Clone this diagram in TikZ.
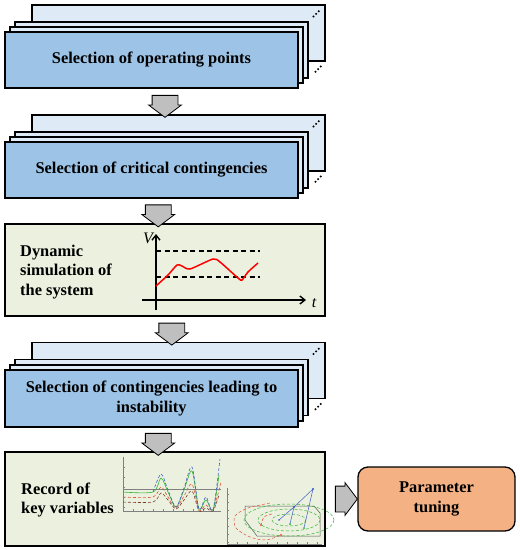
\documentclass[tikz,border=0pt]{standalone}
\usepackage{fontspec}
\setmainfont{Liberation Serif}
\usepackage{tikz}
\usetikzlibrary{arrows.meta, positioning, shapes.arrows, calc}
\definecolor{stepblue}{HTML}{9DC3E6}
\definecolor{stepback}{HTML}{DEEBF7}
\definecolor{simgreen}{HTML}{EBF1DE}
\definecolor{tuneorange}{HTML}{F4B183}
\definecolor{flowgray}{HTML}{BFBFBF}
\definecolor{plotgreen}{HTML}{33B533}
\definecolor{plotred}{HTML}{E0553C}
\definecolor{plotdark}{HTML}{7A3B2E}
\definecolor{plotblue}{HTML}{3F5FC8}

\tikzset{
  stackback/.style={draw, line width=1.3pt, fill=stepback, minimum width=293pt, minimum height=56pt, inner sep=0pt},
  stackfront/.style={draw, line width=1.3pt, fill=stepblue, minimum width=293pt, minimum height=56pt, inner sep=0pt, align=center, font=\fontsize{16.4}{20}\selectfont\bfseries},
  greenbox/.style={draw, line width=1.3pt, fill=simgreen, minimum width=320pt, inner sep=0pt},
  bodytext/.style={align=left, anchor=west, inner sep=0pt, font=\fontsize{16.4}{19.5}\selectfont\bfseries},
  flowarrow/.style={single arrow, draw, line width=0.8pt, fill=flowgray, minimum height=22pt, inner xsep=0pt, inner ysep=12.5pt, single arrow head extend=3.5pt, single arrow tip angle=106},
  limitline/.style={line width=1.2pt, dash pattern=on 5pt off 3.5pt},
  plotline/.style={line width=0.6pt, smooth, tension=0.5},
}

\begin{document}
\begin{tikzpicture}[x=1pt, y=-1pt]
    \useasboundingbox (0,0) rectangle (520,550);

    % Stack: operating points
    \node[stackback] (op3) at (178.5,33) {};
    \node[stackback] (op2) at (161.5,50) {};
    \node[stackback] (op1) at (156.5,55) {};
    \node[stackfront] (op) at (151.5,60) {Selection of operating points};

    % Stack: critical contingencies
    \node[stackback] (cc3) at (178.5,143) {};
    \node[stackback] (cc2) at (161.5,160) {};
    \node[stackback] (cc1) at (156.5,165) {};
    \node[stackfront] (cc) at (151.5,170) {Selection of critical contingencies};

    % Dynamic simulation
    \node[greenbox, minimum height=92pt] (sim) at (165,270) {};
    \node[bodytext] (simtext) at (20,272) {Dynamic\\simulation of\\the system};

    % Stack: contingencies leading to instability
    \node[stackback] (ci3) at (178.5,370.5) {};
    \node[stackback] (ci2) at (161.5,387.5) {};
    \node[stackback] (ci1) at (156.5,393) {};
    \node[stackfront, minimum height=57pt] (ci) at (151.5,398.5) {Selection of contingencies leading to\\instability};

    % Record + tuning
    \node[greenbox, minimum height=94pt] (rec) at (165,499) {};
    \node[bodytext] (rectext) at (21,500) {Record of\\key variables};
    \node[draw, line width=1.3pt, fill=tuneorange, rounded corners=10pt, minimum width=157pt, minimum height=64pt, align=center, font=\fontsize{16.4}{20}\selectfont\bfseries] (tune) at (436.5,499) {Parameter\\tuning};

    % dots behind the stacks
    \foreach \st in {op3, cc3, ci3} {
        \foreach \dd in {-2.6, 0, 2.6} {
            \fill ($(\st.north east)+(-9.5+\dd, 9.5-\dd)$) circle (1.1pt);
            \fill ($(\st.south east)+(-7.5+\dd, 7.5-\dd)$) circle (1.1pt);
        }
    }

    % Flow arrows
    \node[flowarrow, rotate=-90] (a1) at ($(op.south)!0.5!(cc3.north)$) {};
    \node[flowarrow, rotate=-90] (a2) at ($(cc.south)!0.5!(sim.north)$) {};
    \node[flowarrow, rotate=-90] (a3) at ($(sim.south)!0.5!(ci3.north)$) {};
    \node[flowarrow, rotate=-90] (a4) at ($(ci.south)!0.5!(rec.north)$) {};
    \node[flowarrow] (a5) at ($(rec.east)!0.5!(tune.west)$) {};

    % V-t sketch
    \draw[line width=1.4pt, -{Straight Barb[length=5pt, width=8pt]}] (156,310) -- (156,234);
    \draw[line width=1.4pt, -{Straight Barb[length=5pt, width=8pt]}] (142,300) -- (306,300);
    \node[font=\fontsize{16}{16}\selectfont\itshape] (vlab) at (148,238) {V};
    \node[font=\fontsize{16}{16}\selectfont\itshape] (tlab) at (314,303) {t};
    \draw[limitline] (156,251) -- (260,251);
    \draw[limitline] (156,277) -- (260,277);
    \draw[red, line width=1.5pt] plot[smooth, tension=0.4] coordinates {(156,286) (168,275) (177,265) (182,266) (190,269) (213,259) (220,262) (238,278) (242,280) (248,272) (258,263)};

    % small plot: time traces
    \draw[gray, line width=0.4pt] (123,457) -- (123,511) -- (221,511);
    \foreach \tx in {133,143,...,213} \draw[gray, line width=0.3pt] (\tx,511) -- (\tx,509);
    \foreach \ty in {467,477,...,507} \draw[gray, line width=0.3pt] (123,\ty) -- (125,\ty);
    \draw[gray, line width=0.4pt] (123,489) -- (221,489);
    \draw[plotline, plotdark, densely dashed] plot coordinates {(123,502) (153,502) (161,493) (168,500) (176,509) (184,500) (192,491) (199,511) (206,508) (213,511) (219,495)};
    \draw[plotline, plotred, densely dashed] plot coordinates {(123,497) (153,497) (161,487) (168,497) (176,508) (184,496) (192,484) (199,510) (206,505) (213,510) (221,482)};
    \draw[plotline, plotgreen] plot coordinates {(123,492) (153,492) (161,478) (168,492) (176,507) (184,490) (192,471) (199,509) (206,500) (213,510) (219,475)};
    \draw[plotline, plotblue, densely dashed] plot coordinates {(153,492) (161,474) (168,490) (176,507) (184,488) (192,467) (199,509) (206,497) (213,510) (220,459)};

    % small plot: trajectories
    \draw[gray, line width=0.4pt] (227,488) -- (227,544) -- (322,544);
    \foreach \tx in {237,247,...,317} \draw[gray, line width=0.3pt] (\tx,544) -- (\tx,542);
    \foreach \ty in {494,502,...,542} \draw[gray, line width=0.3pt] (227,\ty) -- (229,\ty);
    \draw[gray!70!black, line width=0.5pt] (245,506) -- (314,506) -- (320,513) -- (320,536) -- (257,536) -- (245,520) -- cycle;
    \draw[plotgreen, densely dashed, line width=0.5pt] (289,520) ellipse (45 and 16);
    \draw[plotgreen, densely dashed, line width=0.5pt] (289,520) ellipse (31 and 11);
    \draw[plotgreen, densely dashed, line width=0.5pt] (289,520) ellipse (17 and 6);
    \draw[plotred, densely dashed, line width=0.5pt] plot[smooth] coordinates {(270,503) (248,508) (235,516) (236,528) (250,537) (266,540) (281,535)};
    \draw[plotred, densely dashed, line width=0.5pt] plot[smooth] coordinates {(272,514) (264,517) (261,525)};
    \fill[plotred] (281,535) circle (1.1pt) (261,525) circle (1.1pt);
    \draw[plotblue, line width=0.5pt] (279,520) -- (294,507) -- (313,489) -- (304,528);
    \draw[plotblue, line width=0.5pt] (294,507) -- (290,524);
    \fill[plotblue] (294,507) circle (1.1pt) (313,489) circle (1.1pt) (279,520) circle (0.8pt);
    \fill[plotgreen] (290,524) circle (1pt) (304,528) circle (1pt);
\end{tikzpicture}
\end{document}
